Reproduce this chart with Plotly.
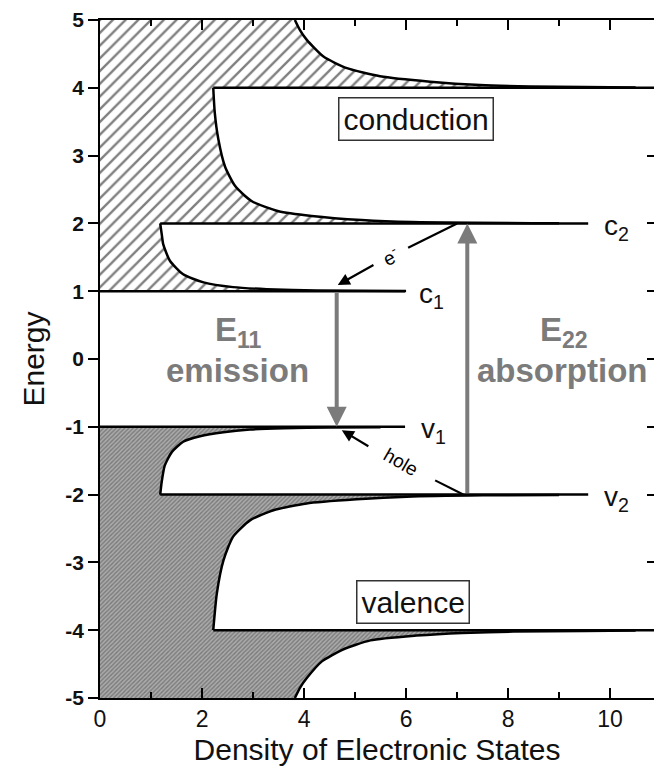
import plotly.graph_objects as go

# ---- density of states along each subband (energy, DOS), from band edge outward ----
c1_E = [1.004, 1.01, 1.03, 1.06, 1.13, 1.25, 1.45, 1.69, 1.84, 2.0]
c1_D = [6.0, 4.25, 3.27, 2.61, 2.03, 1.63, 1.37, 1.24, 1.21, 1.18]
c2_E = [2.004, 2.02, 2.05, 2.11, 2.18, 2.33, 2.55, 2.84, 3.24, 3.63, 4.0]
c2_D = [9.0, 6.11, 5.13, 4.15, 3.50, 2.97, 2.65, 2.45, 2.32, 2.25, 2.22]
c3_E = [4.005, 4.01, 4.02, 4.04, 4.09, 4.17, 4.29, 4.46, 4.71, 4.85, 5.0]
c3_D = [10.5, 9.5, 8.43, 7.45, 6.47, 5.49, 4.84, 4.38, 4.05, 3.92, 3.82]

v1_E = [-1.005, -1.01, -1.02, -1.04, -1.08, -1.14, -1.22, -1.37, -1.57, -1.81, -2.0]
v1_D = [5.5, 4.5, 3.6, 2.94, 2.42, 1.96, 1.63, 1.41, 1.27, 1.21, 1.18]
v2_E = [-2.005, -2.01, -2.03, -2.07, -2.13, -2.23, -2.38, -2.62, -2.97, -3.46, -4.0]
v2_D = [9.0, 7.5, 6.01, 5.03, 4.05, 3.40, 2.94, 2.61, 2.42, 2.29, 2.22]
v3_E = [-4.005, -4.01, -4.02, -4.04, -4.08, -4.15, -4.29, -4.46, -4.71, -4.85, -5.0]
v3_D = [10.5, 9.5, 8.1, 7.1, 6.2, 5.3, 4.75, 4.35, 4.05, 3.92, 3.82]

# band edges (van Hove singularities)
cond_edges = [1, 2, 4]
val_edges = [-1, -2, -4]

# horizontal level lines: energy, start, end
level_E = [4, 2, 1, -1, -2, -4]
level_x0 = [2.22, 1.18, 0, 0, 1.18, 2.22]
level_x1 = [10.86, 9.57, 5.98, 5.98, 9.57, 10.86]

# level labels
level_names = ["c<sub>2</sub>", "c<sub>1</sub>", "v<sub>1</sub>", "v<sub>2</sub>"]
level_name_E = [2, 1, -1, -2]
level_name_x = [9.84, 6.22, 6.25, 9.84]

# axis ticks
energy_ticks = [5, 4, 3, 2, 1, 0, -1, -2, -3, -4, -5]
energy_tick_text = ["5", "4", "3", "2", "1", "0", "-1", "-2", "-3", "-4", "-5"]
dos_ticks = [0, 2, 4, 6, 8, 10]

# optical transitions
emission_x, emission_from, emission_to = 4.64, 1.0, -1.0
absorption_x, absorption_from, absorption_to = 7.2, -2.0, 2.0

X_MAX = 10.86
FONT = "Liberation Sans, Arial, Helvetica, sans-serif"


def band_polygon(edges, curves, far_edge):
    xs, ys = [0], [edges[0]]
    for e0, (E, D) in zip(edges, curves):
        xs += [D[0]] + D
        ys += [e0] + E
    xs += [0]
    ys += [far_edge]
    return xs, ys


fig = go.Figure()

cx, cy = band_polygon(cond_edges, [(c1_E, c1_D), (c2_E, c2_D), (c3_E, c3_D)], 5)
fig.add_trace(go.Scatter(
    x=cx, y=cy, mode="lines", fill="toself", line=dict(width=0),
    fillcolor="white",
    fillpattern=dict(shape="/", size=9, solidity=0.26, fgcolor="black", bgcolor="white"),
    hoverinfo="skip", showlegend=False))

vx, vy = band_polygon(val_edges, [(v1_E, v1_D), (v2_E, v2_D), (v3_E, v3_D)], -5)
fig.add_trace(go.Scatter(
    x=vx, y=vy, mode="lines", fill="toself", line=dict(width=0),
    fillcolor="#999999",
    fillpattern=dict(shape="/", size=3, solidity=0.45, fgcolor="#4a4a4a", bgcolor="#ababab"),
    hoverinfo="skip", showlegend=False))

# DOS curves
for E, D in [(c1_E, c1_D), (c2_E, c2_D), (c3_E, c3_D), (v1_E, v1_D), (v2_E, v2_D), (v3_E, v3_D)]:
    fig.add_trace(go.Scatter(x=D, y=E, mode="lines",
                             line=dict(color="black", width=2.5, shape="spline", smoothing=0.6),
                             hoverinfo="skip", showlegend=False))

# subband level lines
for e, x0, x1 in zip(level_E, level_x0, level_x1):
    fig.add_trace(go.Scatter(x=[x0, x1], y=[e, e], mode="lines",
                             line=dict(color="black", width=2.5),
                             hoverinfo="skip", showlegend=False))

# dashed relaxation paths (two segments around the label)
e_seg = dict(x0=7.0, y0=2.0, x1=6.04, y1=1.64)
h_seg = dict(x0=7.12, y0=-2.0, x1=6.57, y1=-1.79)
for s in (e_seg, h_seg):
    fig.add_shape(type="line", xref="x", yref="y", line=dict(color="black", width=2.2), **s)

# dummy trace to carry the mirrored right-hand axis
fig.add_trace(go.Scatter(x=[None], y=[None], yaxis="y2", showlegend=False, hoverinfo="skip"))

ann = []
gray = "#7b7b7b"
# optical transition arrows
ann.append(dict(x=emission_x, y=emission_to, ax=emission_x, ay=emission_from,
                xref="x", yref="y", axref="x", ayref="y", text="", showarrow=True,
                arrowhead=2, arrowsize=1.0, arrowwidth=4, arrowcolor=gray, standoff=0))
ann.append(dict(x=absorption_x, y=absorption_to, ax=absorption_x, ay=absorption_from,
                xref="x", yref="y", axref="x", ayref="y", text="", showarrow=True,
                arrowhead=2, arrowsize=1.0, arrowwidth=4, arrowcolor=gray, standoff=0))
# relaxation arrowheads
ann.append(dict(x=4.66, y=1.09, ax=5.39, ay=1.40, xref="x", yref="y", axref="x", ayref="y",
                text="", showarrow=True, arrowhead=2, arrowsize=1.1, arrowwidth=2.2,
                arrowcolor="black", standoff=0))
ann.append(dict(x=4.74, y=-1.05, ax=5.29, ay=-1.30, xref="x", yref="y", axref="x", ayref="y",
                text="", showarrow=True, arrowhead=2, arrowsize=1.1, arrowwidth=2.2,
                arrowcolor="black", standoff=0))
ann.append(dict(x=5.69, y=1.52, xref="x", yref="y", text="e<sup>-</sup>", showarrow=False,
                textangle=-28, font=dict(family=FONT, size=19, color="black")))
ann.append(dict(x=5.91, y=-1.52, xref="x", yref="y", text="hole", showarrow=False,
                textangle=30, font=dict(family=FONT, size=19, color="black")))

# transition labels
ann.append(dict(x=2.71, y=0.40, xref="x", yref="y", text="<b>E<sub>11</sub></b>", showarrow=False,
                font=dict(family=FONT, size=33, color=gray)))
ann.append(dict(x=2.70, y=-0.17, xref="x", yref="y", text="<b>emission</b>", showarrow=False,
                font=dict(family=FONT, size=33, color=gray)))
ann.append(dict(x=9.1, y=0.40, xref="x", yref="y", text="<b>E<sub>22</sub></b>", showarrow=False,
                font=dict(family=FONT, size=33, color=gray)))
ann.append(dict(x=9.06, y=-0.17, xref="x", yref="y", text="<b>absorption</b>", showarrow=False,
                font=dict(family=FONT, size=33, color=gray)))

# band labels in boxes
for txt, bx, by in [("conduction", 6.19, 3.54), ("valence", 6.14, -3.58)]:
    ann.append(dict(x=bx, y=by, xref="x", yref="y", text=txt, showarrow=False,
                    font=dict(family=FONT, size=30, color="#111"),
                    bgcolor="white", bordercolor="#333", borderwidth=1.5, borderpad=4))

# subband level names
for txt, lx, le in zip(level_names, level_name_x, level_name_E):
    ann.append(dict(x=lx, y=le, xref="x", yref="y", text=txt, showarrow=False,
                    xanchor="left", yanchor="middle", yshift=-4,
                    font=dict(family=FONT, size=28, color="#111")))

fig.update_layout(
    width=654, height=778,
    margin=dict(l=100, r=0, t=20, b=80),
    paper_bgcolor="white", plot_bgcolor="white",
    font=dict(family=FONT, color="#111"),
    annotations=ann,
    xaxis=dict(
        range=[0, X_MAX], tickvals=dos_ticks, ticks="inside", ticklen=10,
        tickwidth=1.5, tickcolor="black", showline=True, linewidth=1.5, linecolor="black",
        mirror="ticks", showgrid=False, zeroline=False,
        minor=dict(dtick=1, ticks="inside", ticklen=6, tickwidth=1.5, tickcolor="black"),
        tickfont=dict(family=FONT, size=23, color="#111"),
        title=dict(text="Density of Electronic States", font=dict(family=FONT, size=30, color="#111"),
                   standoff=8),
    ),
    yaxis=dict(
        range=[-5, 5], tickvals=energy_ticks, ticktext=energy_tick_text,
        ticks="outside", ticklen=10, tickwidth=1.5, tickcolor="black",
        showline=True, linewidth=1.5, linecolor="black", showgrid=False, zeroline=False,
        tickfont=dict(family=FONT, size=21, color="#111", weight="bold"),
        title=dict(text="Energy", font=dict(family=FONT, size=30, color="#111"), standoff=12),
    ),
    yaxis2=dict(
        overlaying="y", side="right", range=[-5, 5], tickvals=energy_ticks, ticks="inside",
        ticklen=7, tickwidth=1.5, tickcolor="black", showline=False, showgrid=False,
        zeroline=False, showticklabels=False,
    ),
)

fig.write_html("out.html")
